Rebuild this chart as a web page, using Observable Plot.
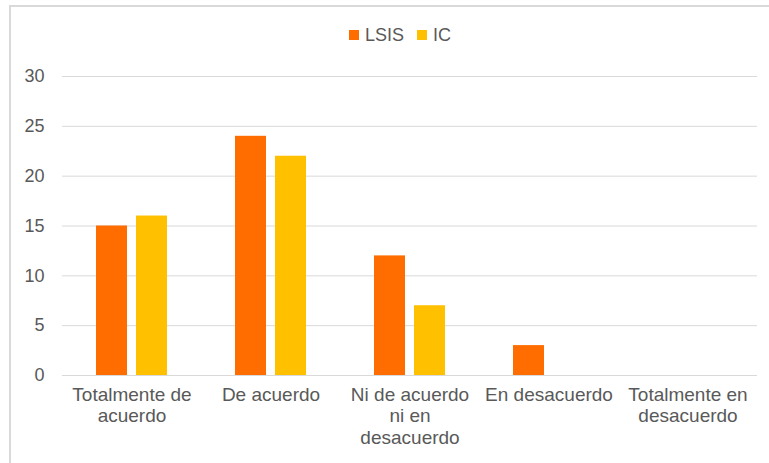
<!DOCTYPE html>
<html><head><meta charset="utf-8">
<script src="https://cdn.jsdelivr.net/npm/d3@7"></script>
<script src="https://cdn.jsdelivr.net/npm/@observablehq/plot@0.6"></script>
<style>
body{margin:0;background:#fff;}
#wrap{position:relative;width:769px;height:463px;overflow:hidden;font-family:"Liberation Sans",Arial,sans-serif;background:#fff;}
#frame{position:absolute;left:9px;top:5px;width:800px;height:520px;border:2px solid #d9d9d9;box-sizing:border-box;}
#legend{position:absolute;top:24px;left:349px;display:flex;align-items:center;font-size:18px;color:#595959;line-height:22px;}
.sw{width:10px;height:10px;display:inline-block;margin-right:6px;}
.item{display:flex;align-items:center;margin-right:13px;}
#chart{position:absolute;left:0;top:0;}
</style></head>
<body>
<div id="wrap">
  <div id="frame"></div>
  <div id="chart"></div>
  <div id="legend"></div>
</div>
<script>
const categories = ["Totalmente de acuerdo", "De acuerdo", "Ni de acuerdo ni en desacuerdo", "En desacuerdo", "Totalmente en desacuerdo"];
const categoryLabels = ["Totalmente de\nacuerdo", "De acuerdo", "Ni de acuerdo\nni en\ndesacuerdo", "En desacuerdo", "Totalmente en\ndesacuerdo"];
const series = ["LSIS", "IC"];
const lsisValues = [15, 24, 12, 3, 0];
const icValues = [16, 22, 7, 0, 0];
const seriesColors = ["#FF6D00", "#FFC000"];
const yTicks = [0, 5, 10, 15, 20, 25, 30];

const rows = categories.flatMap((c, i) => [
  {cat: c, s: series[0], v: lsisValues[i]},
  {cat: c, s: series[1], v: icValues[i]}
]);
const labelOf = new Map(categories.map((c, i) => [c, categoryLabels[i]]));

const chart = Plot.plot({
  width: 769, height: 463,
  marginTop: 76, marginBottom: 88, marginLeft: 62, marginRight: 12,
  style: {fontFamily: '"Liberation Sans", Arial, sans-serif', color: "#595959", background: "transparent"},
  fx: {domain: categories, paddingInner: 0, paddingOuter: 0, label: null, axis: null},
  x: {domain: series, paddingInner: 0.225, paddingOuter: 0.83, axis: null},
  y: {domain: [0, 30], axis: null},
  color: {domain: series, range: seriesColors},
  marks: [
    Plot.ruleY(yTicks, {stroke: "#d9d9d9", strokeWidth: 1}),
    Plot.barY(rows, {fx: "cat", x: "s", y: "v", fill: "s"}),
    Plot.axisY(yTicks, {tickSize: 0, tickPadding: 18, fontSize: 18, fill: "#595959", label: null}),
    Plot.axisFx({anchor: "bottom", tickSize: 0, tickPadding: 10, fontSize: 19, lineHeight: 1.13, fill: "#595959", label: null, tickFormat: d => labelOf.get(d)})
  ]
});
document.getElementById("chart").appendChild(chart);

const legend = document.getElementById("legend");
series.forEach((s, i) => {
  const item = document.createElement("div");
  item.className = "item";
  const sw = document.createElement("span");
  sw.className = "sw";
  sw.style.background = seriesColors[i];
  const t = document.createElement("span");
  t.textContent = s;
  item.appendChild(sw); item.appendChild(t);
  legend.appendChild(item);
});
</script>
</body></html>
